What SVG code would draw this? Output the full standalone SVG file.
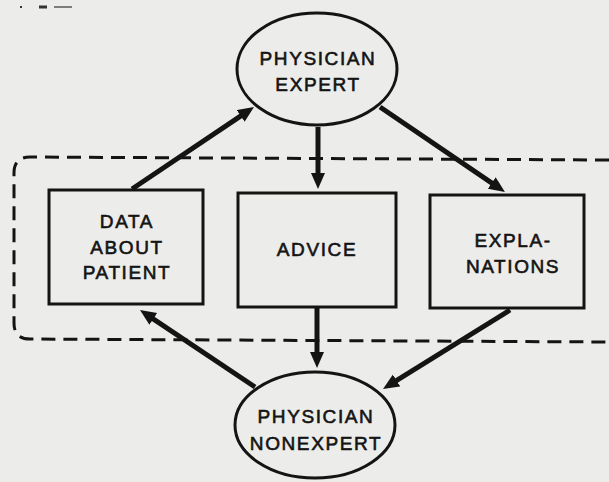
<svg xmlns="http://www.w3.org/2000/svg" width="609" height="482" viewBox="0 0 609 482">
<style>
.bg{fill:#ececea}
.node{fill:none;stroke:#141414;stroke-width:3}
.lbl{font-family:"Liberation Sans",Arial,sans-serif;font-size:19px;fill:#141414;stroke:#141414;stroke-width:0.6;text-anchor:middle;letter-spacing:1.6px}
.conn{stroke:#141414;stroke-width:5;fill:none}
.dash{fill:none;stroke:#141414;stroke-width:3;stroke-dasharray:14 8}
</style>
<defs>
<marker id="ah" markerUnits="userSpaceOnUse" markerWidth="18" markerHeight="16" refX="6" refY="7" orient="auto">
<path d="M0,0 L16,7 L0,14 z" fill="#141414"/>
</marker>
</defs>
<rect class="bg" x="0" y="0" width="609" height="482"/>
<g id="marks" stroke="#333" stroke-width="2">
<line x1="20" y1="7" x2="22" y2="7"/>
<line x1="39" y1="7" x2="47" y2="7" stroke-width="3"/>
<line x1="54" y1="7" x2="72" y2="7" stroke-width="1.2"/>
</g>
<g id="group-boundary">
<path class="dash" d="M609,160 L30,157 Q14,157 14,173 L14,323 Q14,339 30,339 L609,342"/>
</g>
<g id="expert">
<ellipse class="node" cx="317" cy="69" rx="80" ry="56"/>
<text class="lbl" x="318" y="65">PHYSICIAN</text>
<text class="lbl" x="318" y="91">EXPERT</text>
</g>
<g id="data">
<rect class="node" x="49" y="190" width="154" height="114"/>
<text class="lbl" x="127" y="228">DATA</text>
<text class="lbl" x="127" y="254">ABOUT</text>
<text class="lbl" x="127" y="279">PATIENT</text>
</g>
<g id="advice">
<rect class="node" x="238" y="193" width="158" height="114"/>
<text class="lbl" x="317" y="256">ADVICE</text>
</g>
<g id="explanations">
<rect class="node" x="430" y="195" width="154" height="113"/>
<text class="lbl" x="513" y="247">EXPLA-</text>
<text class="lbl" x="513" y="273">NATIONS</text>
</g>
<g id="nonexpert">
<ellipse class="node" cx="315" cy="425" rx="80" ry="53"/>
<text class="lbl" x="316" y="423">PHYSICIAN</text>
<text class="lbl" x="316" y="450">NONEXPERT</text>
</g>
<g id="connectors">
<line class="conn" x1="132" y1="189" x2="245.7" y2="112.6" marker-end="url(#ah)"/>
<line class="conn" x1="318" y1="127" x2="318" y2="179" marker-end="url(#ah)"/>
<line class="conn" x1="380" y1="107" x2="496.7" y2="186.4" marker-end="url(#ah)"/>
<line class="conn" x1="255" y1="387" x2="148.3" y2="315.6" marker-end="url(#ah)"/>
<line class="conn" x1="317" y1="307" x2="317" y2="358" marker-end="url(#ah)"/>
<line class="conn" x1="510" y1="310" x2="391.5" y2="383.7" marker-end="url(#ah)"/>
</g>
</svg>
